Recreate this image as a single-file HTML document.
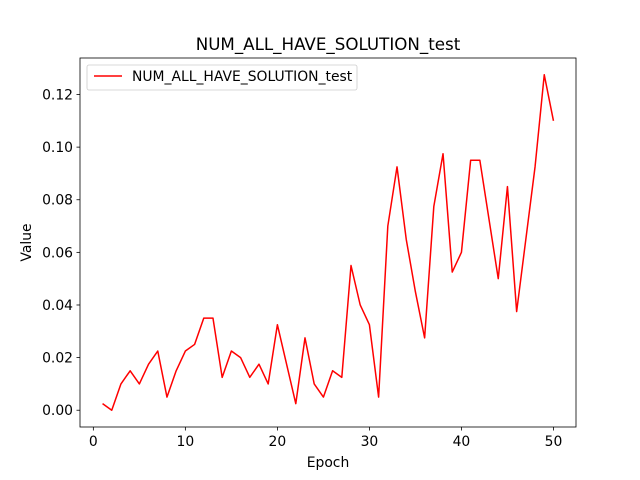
<!DOCTYPE html>
<html><head><meta charset="utf-8"><style>
body{margin:0;background:#fff;}
svg{display:block;font-family:"DejaVu Sans","Liberation Sans",sans-serif;}
</style></head><body>
<svg id="chart" width="640" height="480" viewBox="0 0 640 480">
<rect width="640" height="480" fill="#fff"/>
</svg>
<script>
const epochs = [];
for (let i = 1; i <= 50; i++) epochs.push(i);
const values = [0.0025,0,0.01,0.015,0.01,0.0175,0.0225,0.005,0.015,0.0225,
0.025,0.035,0.035,0.0125,0.0225,0.02,0.0125,0.0175,0.01,0.0325,
0.0175,0.0025,0.0275,0.01,0.005,0.015,0.0125,0.055,0.04,0.0325,
0.005,0.07,0.0925,0.065,0.045,0.0275,0.0775,0.0975,0.0525,0.06,
0.095,0.095,0.0725,0.05,0.085,0.0375,0.065,0.0925,0.1275,0.11];
const xTicks = [0,10,20,30,40,50];
const yTicks = [0,0.02,0.04,0.06,0.08,0.10,0.12];
const yTickLabels = ["0.00","0.02","0.04","0.06","0.08","0.10","0.12"];

const L=80,R=576,T=58,B=427;
const ns="http://www.w3.org/2000/svg";
const svg=document.getElementById('chart');
const xmin=Math.min(...epochs),xmax=Math.max(...epochs);
const xpad=(xmax-xmin)*0.05;
const ymin=Math.min(...values),ymax=Math.max(...values);
const ypad=(ymax-ymin)*0.05;
const xs=v=>L+(v-(xmin-xpad))/((xmax+xpad)-(xmin-xpad))*(R-L);
const ys=v=>B-(v-(ymin-ypad))/((ymax+ypad)-(ymin-ypad))*(B-T);
function mk(tag,attrs,parent){const e=document.createElementNS(ns,tag);for(const k in attrs)e.setAttribute(k,attrs[k]);(parent||svg).appendChild(e);return e;}

const title=mk('text',{x:(L+R)/2,y:50,'text-anchor':'middle','font-size':16.7,fill:'#000'});


title.textContent='NUM_ALL_HAVE_SOLUTION_test';

xTicks.forEach(t=>{
  const x=xs(t);
  const g=mk('g',{});
  
  
  mk('line',{x1:x,x2:x,y1:B,y2:B+3.5,stroke:'#000','stroke-width':0.8},g);
  const tx=mk('text',{x:x,y:B+19,'text-anchor':'middle','font-size':13.9,fill:'#000'},g);
  tx.textContent=t;
});
yTicks.forEach((t,i)=>{
  const y=ys(t);
  const g=mk('g',{});
  
  
  mk('line',{x1:L-3.5,x2:L,y1:y,y2:y,stroke:'#000','stroke-width':0.8},g);
  const tx=mk('text',{x:L-7,y:y+5,'text-anchor':'end','font-size':13.9,fill:'#000'},g);
  tx.textContent=yTickLabels[i];
});

const xl=mk('text',{x:(L+R)/2,y:467,'text-anchor':'middle','font-size':13.9,fill:'#000'});


xl.textContent='Epoch';
const yl=mk('text',{x:31,y:(T+B)/2,'text-anchor':'middle','font-size':13.9,fill:'#000',transform:`rotate(-90 31 ${(T+B)/2})`});


yl.textContent='Value';

const line=mk('polyline',{points:epochs.map((e,i)=>xs(e)+','+ys(values[i])).join(' '),fill:'none',stroke:'#ff0000','stroke-width':1.5,'stroke-linejoin':'round'});



const frame=mk('rect',{x:L,y:T,width:R-L,height:B-T,fill:'none',stroke:'#000','stroke-width':0.8});



const lg=mk('g',{});


mk('rect',{x:87,y:65,width:270,height:25,rx:2,fill:'#fff','fill-opacity':0.8,stroke:'#ccc','stroke-width':0.8},lg);
mk('line',{x1:94,x2:122,y1:76,y2:76,stroke:'#ff0000','stroke-width':1.5},lg);
const lt=mk('text',{x:132,y:81,'font-size':13.9,fill:'#000'},lg);
lt.textContent='NUM_ALL_HAVE_SOLUTION_test';
</script>
</body></html>
